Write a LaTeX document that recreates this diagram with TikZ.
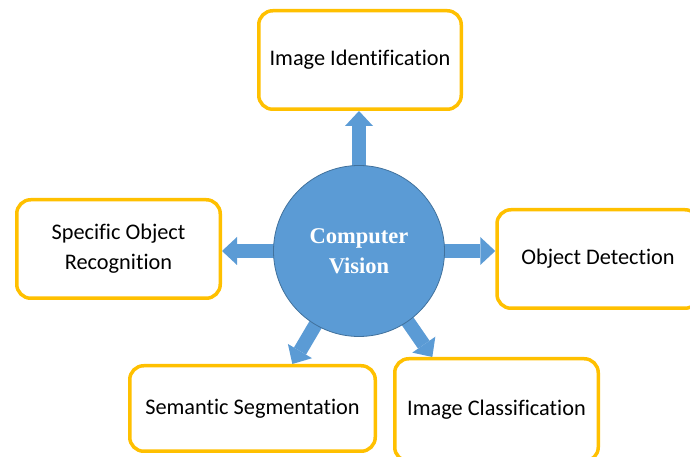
\documentclass[tikz,border=0pt]{standalone}
\usepackage{fontspec}
\setmainfont{Carlito}[Ligatures=NoCommon]
\newfontfamily\cvfont{Liberation Serif}
\usetikzlibrary{arrows.meta,calc,backgrounds}
\definecolor{cvblue}{HTML}{5B9BD5}
\definecolor{cvedge}{HTML}{41719C}
\definecolor{boxgold}{HTML}{FFC000}
\begin{document}
\begin{tikzpicture}[x=1pt,y=1pt,
  box/.style={draw=boxgold, line width=3.5pt, rounded corners=14pt, fill=white,
    align=center, font=\fontsize{22.3}{30}\selectfont, inner sep=0pt},
  bigarrow/.style={draw=cvblue, line width=14pt,
    -{Triangle[width=28pt,length=15pt,line width=0pt]}, shorten <=-14pt}]
\useasboundingbox (0,0) rectangle (690,457);
\node[circle, fill=cvblue, draw=cvedge, line width=0.8pt, minimum size=171pt,
  text=white, font=\cvfont\bfseries\fontsize{22.5}{30}\selectfont, align=center]
  (cv) at (359,206) {Computer\\Vision};
\node[box, minimum width=202.5pt, minimum height=98.5pt] (id) at (360,397) {Image Identification};
\node[box, minimum width=203.5pt, minimum height=98.5pt] (sor) at (118.5,208) {Specific Object\\Recognition};
\node[box, minimum width=202pt, minimum height=98.5pt] (od) at (598,198) {Object Detection};
\node[box, minimum width=245.5pt, minimum height=85.5pt] (seg) at (252.5,48.5) {Semantic Segmentation};
\node[box, minimum width=203.5pt, minimum height=102.5pt] (cls) at (496.5,47) {Image Classification};
\begin{scope}[on background layer]
  \draw[bigarrow] (cv) -- (cv |- id.south);
  \draw[bigarrow] (cv) -- (cv -| sor.east);
  \draw[bigarrow] (cv) -- (cv -| od.west);
  \draw[bigarrow] (cv) -- ($(seg.north west)!0.66!(seg.north east)$);
  \draw[bigarrow] (cv) -- ($(cls.north west)!0.19!(cls.north east)$);
\end{scope}
\end{tikzpicture}
\end{document}
